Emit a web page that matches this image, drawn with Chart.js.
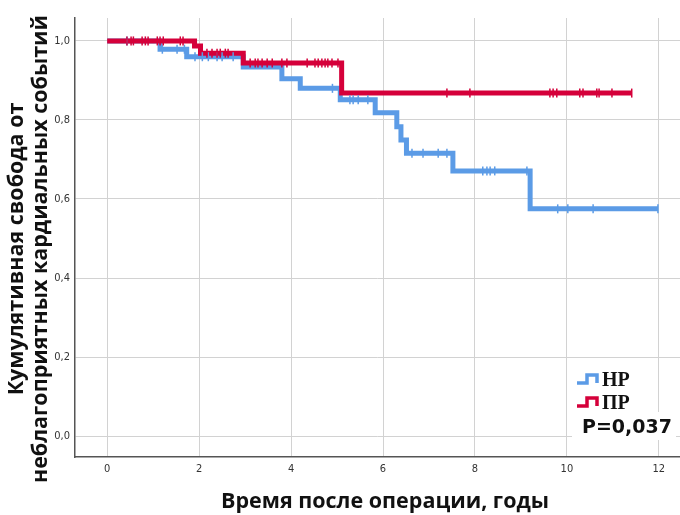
<!DOCTYPE html>
<html>
<head>
<meta charset="utf-8">
<script src="https://cdn.jsdelivr.net/npm/chart.js@4/dist/chart.umd.min.js"></script>
<style>
  html, body { margin: 0; padding: 0; background: #fff; }
  #wrap { width: 680px; height: 515px; }
</style>
</head>
<body>
<div id="wrap"><canvas id="km" width="680" height="515"></canvas></div>
<script>
// Данные кривых Каплана-Мейера (время, годы / кумулятивная доля)
const groupNames = ['НР', 'ПР'];
const pLabel = 'P=0,037';
const xTitle = 'Время после операции, годы';
const yTitle = ['Кумулятивная свобода от', 'неблагоприятных кардиальных событий'];

const nrTimes = [0, 1.15, 1.73, 2.96, 3.8, 4.2, 5.07, 5.83, 6.3, 6.39, 6.51, 7.52, 9.2, 11.98];
const nrSurv  = [1.0, 0.979, 0.960, 0.934, 0.904, 0.880, 0.851, 0.818, 0.783, 0.749, 0.716, 0.671, 0.575, 0.575];
const nrCensored = [0.43, 1.2, 1.52, 1.68, 1.91, 2.07, 2.2, 2.39, 2.5, 2.74, 4.9, 5.28, 5.35, 5.46, 5.67,
  6.63, 6.87, 7.2, 7.39, 8.17, 8.26, 8.33, 8.43, 9.13, 9.8, 10.02, 10.57, 11.98];

const prTimes = [0, 1.9, 2.03, 2.96, 5.1, 11.41];
const prSurv  = [1.0, 0.987, 0.969, 0.944, 0.868, 0.868];
const prCensored = [0.43, 0.52, 0.57, 0.76, 0.83, 0.89, 1.09, 1.15, 1.22, 1.59, 1.65,
  2.17, 2.28, 2.39, 2.46, 2.57, 2.63,
  3.11, 3.22, 3.28, 3.37, 3.48, 3.59, 3.8, 3.91, 4.35, 4.52, 4.59, 4.67, 4.74, 4.8, 4.89, 5.02,
  7.39, 7.89, 9.63, 9.7, 9.78, 10.28, 10.35, 10.65, 10.7, 10.98, 11.41];

const xTicks = [0, 2, 4, 6, 8, 10, 12];
const yTicks = [0, 0.2, 0.4, 0.6, 0.8, 1.0];

const colorNR = '#5b9be6';
const colorPR = '#d5003a';

// значение ступенчатой кривой в момент t
function survivalAt(times, surv, t) {
  let s = surv[0];
  for (let i = 0; i < times.length; i++) {
    if (times[i] <= t) s = surv[i];
  }
  return s;
}

const curve = (times, surv) => times.map((t, i) => ({ x: t, y: surv[i] }));
const marks = (cens, times, surv) => cens.map(t => ({ x: t, y: survivalAt(times, surv, t) }));

const comma = v => v.toFixed(1).replace('.', ',');
const titleFont = 'bold 21.5px "Open Sans"';

// подписи осей, легенда и P внутри области графика
const kmDecor = {
  id: 'kmDecor',
  afterDraw(chart) {
    const ctx = chart.ctx;
    const r = chart.chartArea.right;
    ctx.save();

    // заголовки осей
    ctx.fillStyle = '#111';
    ctx.font = titleFont;
    ctx.textAlign = 'center';
    ctx.textBaseline = 'middle';
    ctx.fillText(xTitle, 385, 502);
    ctx.save();
    ctx.translate(0, 249);
    ctx.rotate(-Math.PI / 2);
    yTitle.forEach((line, i) => ctx.fillText(line, 0, 17 + i * 24));
    ctx.restore();

    // P
    ctx.textAlign = 'left';
    ctx.textBaseline = 'alphabetic';
    ctx.fillStyle = '#fff';
    ctx.fillRect(r - 108, 412, 104, 28);
    ctx.fillStyle = '#111';
    ctx.font = 'bold 19px "DejaVu Sans"';
    ctx.fillText(pLabel, r - 98, 433);

    // легенда
    [colorNR, colorPR].forEach((c, i) => {
      const y = 383 + i * 23;
      const x = r - 103;
      ctx.strokeStyle = c;
      ctx.lineWidth = 3.5;
      ctx.lineJoin = 'miter';
      ctx.beginPath();
      ctx.moveTo(x, y);
      ctx.lineTo(x + 10, y);
      ctx.lineTo(x + 10, y - 8);
      ctx.lineTo(x + 20, y - 8);
      ctx.lineTo(x + 20, y);
      ctx.stroke();
      ctx.fillStyle = '#111';
      ctx.font = 'bold 20px "Liberation Serif"';
      ctx.fillText(groupNames[i], x + 25, y + 3);
    });
    ctx.restore();
  }
};

new Chart(document.getElementById('km'), {
  type: 'scatter',
  data: {
    datasets: [
      {
        label: groupNames[0], data: curve(nrTimes, nrSurv), showLine: true, stepped: true,
        borderColor: colorNR, borderWidth: 5, pointRadius: 0, order: 4
      },
      {
        label: groupNames[1], data: curve(prTimes, prSurv), showLine: true, stepped: true,
        borderColor: colorPR, borderWidth: 5, pointRadius: 0, order: 3
      },
      {
        label: 'nr-cens', data: marks(nrCensored, nrTimes, nrSurv), showLine: false,
        pointStyle: 'line', rotation: 90, pointRadius: 4.5, pointBorderWidth: 1.5,
        borderColor: colorNR, backgroundColor: colorNR, order: 2
      },
      {
        label: 'pr-cens', data: marks(prCensored, prTimes, prSurv), showLine: false,
        pointStyle: 'line', rotation: 90, pointRadius: 4.5, pointBorderWidth: 1.5,
        borderColor: colorPR, backgroundColor: colorPR, order: 1
      }
    ]
  },
  options: {
    responsive: false,
    devicePixelRatio: 1,
    animation: false,
    layout: { autoPadding: false, padding: { top: 18, right: 0, left: 0, bottom: 0 } },
    plugins: {
      legend: { display: false },
      tooltip: { enabled: false }
    },
    scales: {
      x: {
        type: 'linear',
        min: -0.7,
        max: 12.46,
        afterBuildTicks: s => { s.ticks = xTicks.map(v => ({ value: v })); },
        afterFit: s => { s.height = 58; s.paddingLeft = 0; s.paddingRight = 0; },
        grid: { color: '#d2d2d2', lineWidth: 1, drawTicks: false },
        border: { color: '#555', width: 1.5 },
        ticks: {
          padding: 6, color: '#333',
          font: { family: '"Liberation Sans Narrow", "DejaVu Sans Condensed", sans-serif', size: 11 },
          callback: v => String(v)
        }
      },
      y: {
        type: 'linear',
        min: -0.053,
        max: 1.058,
        afterBuildTicks: s => { s.ticks = yTicks.map(v => ({ value: v })); },
        afterFit: s => { s.width = 75; s.paddingTop = 0; s.paddingBottom = 0; },
        grid: { color: '#d2d2d2', lineWidth: 1, drawTicks: false },
        border: { color: '#555', width: 1.5 },
        ticks: {
          padding: 5, color: '#333',
          font: { family: '"Liberation Sans Narrow", "DejaVu Sans Condensed", sans-serif', size: 11 },
          callback: v => comma(v)
        }
      }
    }
  },
  plugins: [kmDecor]
});
</script>
</body>
</html>
